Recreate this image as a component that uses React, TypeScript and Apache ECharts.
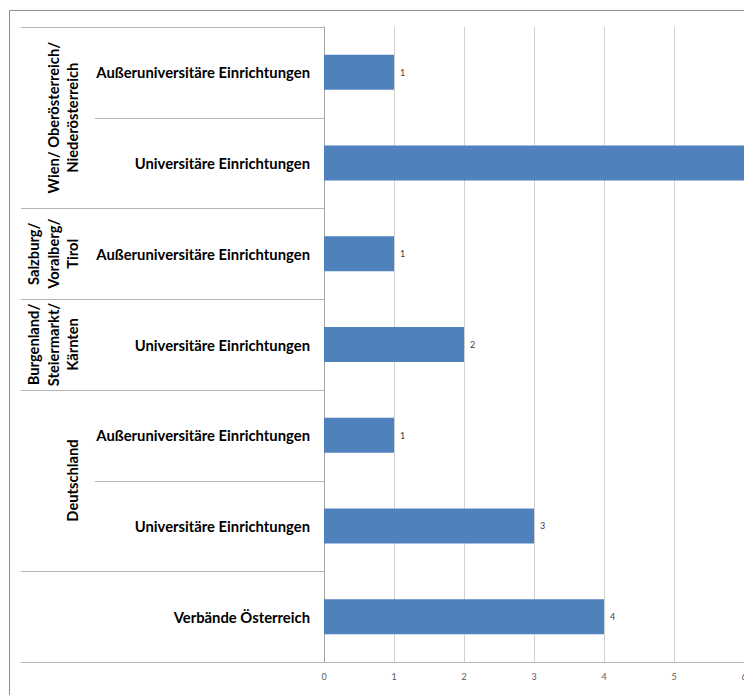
import React, { useEffect, useRef } from "react";
import * as echarts from "echarts";

const categories = [
  "Außeruniversitäre Einrichtungen",
  "Universitäre Einrichtungen",
  "Außeruniversitäre Einrichtungen",
  "Universitäre Einrichtungen",
  "Außeruniversitäre Einrichtungen",
  "Universitäre Einrichtungen",
  "Verbände Österreich",
];
const values = [1, 6, 1, 2, 1, 3, 4];
const groupLabels = [
  "Wien/ Oberösterreich/\nNiederösterreich",
  "Salzburg/\nVoralberg/\nTirol",
  "Burgenland/\nSteiermarkt/\nKärnten",
  "Deutschland",
  "",
];
const groupSpans = [2, 1, 1, 2, 1];
const xMin = 0;
const xMax = 6;
const xStep = 1;

const W = 744;
const H = 695;
const GRID = { left: 324, right: 0, top: 27, bottom: 33 };
const FONT = "Lato, 'Open Sans', sans-serif";

export default function App() {
  const ref = useRef<HTMLDivElement>(null);
  useEffect(() => {
    if (!ref.current) return;
    document.body.style.margin = "0";
    const chart = echarts.init(ref.current, undefined, { renderer: "svg", width: W, height: H });
    const n = categories.length;
    const plotTop = GRID.top;
    const plotBottom = H - GRID.bottom;
    const bandH = (plotBottom - plotTop) / n;
    const sepColor = "#b3b3b3";

    const groupStarts: number[] = [];
    let acc = 0;
    groupSpans.forEach((s) => {
      groupStarts.push(acc);
      acc += s;
    });
    const isGroupBoundary = (i: number) => i === n || groupStarts.includes(i);

    const graphics: any[] = [];
    graphics.push({
      type: "polyline",
      silent: true,
      shape: { points: [[9.5, H], [9.5, 10.5], [W, 10.5]] },
      style: { stroke: "#8c8c8c", lineWidth: 1, fill: null },
    });
    for (let i = 0; i < n; i++) {
      const y = Math.round(plotTop + i * bandH) + 0.5;
      const x0 = isGroupBoundary(i) ? 21 : 95;
      graphics.push({
        type: "line",
        silent: true,
        shape: { x1: x0, y1: y, x2: GRID.left, y2: y },
        style: { stroke: sepColor, lineWidth: 1 },
      });
    }
    graphics.push({
      type: "line",
      silent: true,
      shape: { x1: 21, y1: Math.round(plotBottom) + 0.5, x2: GRID.left, y2: Math.round(plotBottom) + 0.5 },
      style: { stroke: sepColor, lineWidth: 1 },
    });
    groupLabels.forEach((lab, gi) => {
      if (!lab) return;
      const start = groupStarts[gi];
      const cy = plotTop + (start + groupSpans[gi] / 2) * bandH;
      graphics.push({
        type: "text",
        silent: true,
        x: 82,
        y: cy,
        rotation: Math.PI / 2,
        style: {
          text: lab,
          fill: "#000",
          font: `bold 14.7px ${FONT}`,
          align: "center",
          verticalAlign: "bottom",
          lineHeight: 19.5,
        },
      });
    });

    chart.setOption({
      animation: false,
      grid: {
        left: GRID.left,
        right: GRID.right,
        top: GRID.top,
        bottom: GRID.bottom,
        containLabel: false,
        outerBoundsMode: "none",
      },
      xAxis: {
        type: "value",
        min: xMin,
        max: xMax,
        interval: xStep,
        axisLine: { show: true, lineStyle: { color: sepColor } },
        axisTick: { show: false },
        splitLine: { show: true, lineStyle: { color: "#d0d0d0" } },
        axisLabel: { color: "#595959", fontSize: 9, fontFamily: FONT, margin: 10 },
      },
      yAxis: {
        type: "category",
        inverse: true,
        data: categories.map((_, i) => String(i)),
        axisLine: { show: true, lineStyle: { color: "#a6a6a6" } },
        axisTick: { show: false },
        splitLine: { show: false },
        axisLabel: {
          formatter: (v: string) => categories[Number(v)],
          color: "#000",
          fontWeight: "bold",
          fontSize: 14.8,
          fontFamily: FONT,
          margin: 14,
        },
      },
      series: [
        {
          type: "bar",
          data: values,
          barWidth: 35,
          itemStyle: { color: "#4f81bd" },
          label: {
            show: true,
            position: "right",
            distance: 6,
            color: "#404040",
            fontSize: 9,
            fontFamily: FONT,
          },
        },
      ],
      graphic: graphics,
    });
    return () => chart.dispose();
  }, []);
  return <div ref={ref} style={{ width: W, height: H, background: "#fff" }} />;
}
